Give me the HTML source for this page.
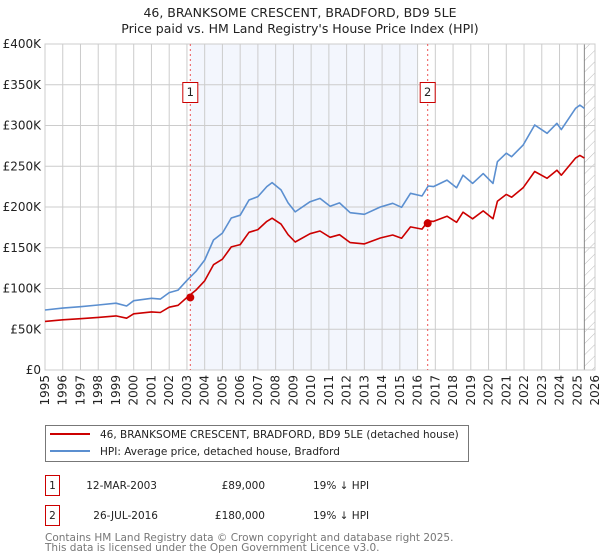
<!DOCTYPE html>
<html><head><meta charset="utf-8"><style>
body{margin:0;background:#fff;}
svg{display:block;font-family:"DejaVu Sans","Liberation Sans",sans-serif;}
</style></head><body>
<svg id="chart" width="600" height="560" viewBox="0 0 600 560">
<defs>
<pattern id="hatch" patternUnits="userSpaceOnUse" width="8" height="8" patternTransform="rotate(45)">
<line x1="0" y1="0" x2="0" y2="8" stroke="#bbb" stroke-width="1"/>
</pattern>
</defs>
<text x="300" y="17" text-anchor="middle" font-size="12.5" fill="#222">46, BRANKSOME CRESCENT, BRADFORD, BD9 5LE</text>
<text x="300" y="33" text-anchor="middle" font-size="12.5" fill="#222">Price paid vs. HM Land Registry's House Price Index (HPI)</text>
<g id="plot"></g>
<g>
<rect x="45.5" y="425.5" width="423" height="36" fill="#fff" stroke="#777"/>
<line x1="50" y1="434" x2="90" y2="434" stroke="#cc0000" stroke-width="2"/>
<text x="100" y="438" font-size="10.5" fill="#222">46, BRANKSOME CRESCENT, BRADFORD, BD9 5LE (detached house)</text>
<line x1="50" y1="451" x2="90" y2="451" stroke="#5b8fd0" stroke-width="2"/>
<text x="100" y="455" font-size="10.5" fill="#222">HPI: Average price, detached house, Bradford</text>
</g>
<g font-size="10.5" fill="#222">
<rect x="45.5" y="475.5" width="14" height="20" fill="#fff" stroke="#cc0000"/>
<text x="52.5" y="489" text-anchor="middle">1</text>
<text x="157" y="489" text-anchor="end">12-MAR-2003</text>
<text x="265" y="489" text-anchor="end">£89,000</text>
<text x="313" y="489">19% ↓ HPI</text>
<rect x="45.5" y="505.5" width="14" height="20" fill="#fff" stroke="#cc0000"/>
<text x="52.5" y="519" text-anchor="middle">2</text>
<text x="158" y="519" text-anchor="end">26-JUL-2016</text>
<text x="265" y="519" text-anchor="end">£180,000</text>
<text x="313" y="519">19% ↓ HPI</text>
</g>
<text x="45" y="541" font-size="10.5" fill="#777">Contains HM Land Registry data © Crown copyright and database right 2025.</text>
<text x="45" y="551" font-size="10.5" fill="#777">This data is licensed under the Open Government Licence v3.0.</text>
</svg>
<script>
const hpiYears = [1995.0,1996.0,1997.0,1998.0,1999.0,1999.6,2000.0,2001.0,2001.5,2002.0,2002.5,2003.0,2003.5,2004.0,2004.5,2005.0,2005.5,2006.0,2006.5,2007.0,2007.5,2007.8,2008.3,2008.7,2009.1,2009.94,2010.5,2011.07,2011.6,2012.2,2013.0,2013.9,2014.6,2015.1,2015.6,2016.25,2016.6,2016.9,2017.66,2018.2,2018.56,2019.1,2019.7,2020.25,2020.5,2021.0,2021.3,2021.95,2022.6,2023.3,2023.85,2024.1,2024.9,2025.15,2025.4];
const hpiValues = [73.6,76,77.7,79.8,82,78.5,85,88,87,95,98,110,120.7,135,159.5,168,186.5,190,208.6,212.7,225,230,221,205,194,206.5,210.6,201,205,193,191,200,204.5,199.6,216.8,213.5,225.8,225,233,223.7,239,229,241,229,255.6,266,261.7,276,300.6,290.4,302.7,295,321,325,321];
const priceValues = [59.6,61.6,62.9,64.6,66.4,63.6,68.9,71.3,70.5,77,79.4,89,97.8,109.4,129.2,136,151,153.9,169,172.3,182.3,186.3,179,166,157.1,167.3,170.6,162.8,166,156.3,154.7,162,165.6,161.7,175.6,172.9,182.9,182.3,188.7,181.2,193.6,185.5,195.2,185.5,207,215.5,212,223.6,243.5,235.2,245.2,239,260,263.3,260];
const saleYears = [2003.19, 2016.57];
const saleValues = [89, 180];
const saleLabels = ["1", "2"];
const yTicks = [0,50,100,150,200,250,300,350,400];
const yTickLabels = ["£0","£50K","£100K","£150K","£200K","£250K","£300K","£350K","£400K"];
const xTicks = [1995,1996,1997,1998,1999,2000,2001,2002,2003,2004,2005,2006,2007,2008,2009,2010,2011,2012,2013,2014,2015,2016,2017,2018,2019,2020,2021,2022,2023,2024,2025,2026];

const NS = "http://www.w3.org/2000/svg";
const L = 45, R = 595, T = 44, B = 370;
function xs(y){ return L + (y - 1995) / (2026 - 1995) * (R - L); }
function ys(v){ return B - v / 400 * (B - T); }
const plot = document.getElementById('plot');
function mk(tag, attrs, parent){ const e = document.createElementNS(NS, tag); for (const k in attrs) e.setAttribute(k, attrs[k]); (parent||plot).appendChild(e); return e; }

const bg = mk('rect', {x:L, y:T, width:R-L, height:B-T, fill:'#fff'});


const shade = mk('rect', {x:xs(saleYears[0]), y:T, width:xs(2016.0)-xs(saleYears[0]), height:B-T, fill:'#f3f6fd'});


const hatch = mk('rect', {x:xs(2025.4), y:T, width:R-xs(2025.4), height:B-T, fill:'url(#hatch)'});



xTicks.forEach((t) => {
  const g = mk('line', {x1:xs(t), x2:xs(t), y1:T, y2:B, stroke:'#ccc', 'stroke-width':1});
  
  
  const lb = mk('text', {x:0, y:0, 'font-size':12, fill:'#222', 'text-anchor':'end', transform:`translate(${xs(t)+4},${B+5}) rotate(-90)`});
  lb.textContent = t;
  
  
});
yTicks.forEach((t, i) => {
  const g = mk('line', {x1:L, x2:R, y1:ys(t), y2:ys(t), stroke:'#ccc', 'stroke-width':1});
  
  
  const lb = mk('text', {x:L-4, y:ys(t)+4, 'font-size':12, fill:'#222', 'text-anchor':'end'});
  lb.textContent = yTickLabels[i];
  
  
});
const vline = mk('line', {x1:xs(2025.4), x2:xs(2025.4), y1:T, y2:B, stroke:'#888', 'stroke-width':1});


const border = mk('rect', {x:L, y:T, width:R-L, height:B-T, fill:'none', stroke:'#ccc'});



saleYears.forEach((yr, i) => {
  const d = mk('line', {x1:xs(yr), x2:xs(yr), y1:T, y2:B, stroke:'#ee5555', 'stroke-width':1, 'stroke-dasharray':'2,3'});
  
  
  const bx = mk('rect', {x:xs(yr)-7.5, y:82.5, width:15, height:20, fill:'#fff', stroke:'#cc0000'});
  
  
  const tx = mk('text', {x:xs(yr), y:96, 'font-size':11.5, fill:'#222', 'text-anchor':'middle'});
  tx.textContent = saleLabels[i];
  
  
});

function pts(vals){ return hpiYears.map((y, i) => xs(y).toFixed(1) + ',' + ys(vals[i]).toFixed(1)).join(' '); }
const hl = mk('polyline', {points:pts(hpiValues), fill:'none', stroke:'#5b8fd0', 'stroke-width':1.6, 'stroke-linejoin':'round'});


const pl = mk('polyline', {points:pts(priceValues), fill:'none', stroke:'#cc0000', 'stroke-width':1.6, 'stroke-linejoin':'round'});



saleYears.forEach((yr, i) => {
  const c = mk('circle', {cx:xs(yr), cy:ys(saleValues[i]), r:4, fill:'#cc0000'});
  
  
});
</script>
</body></html>
